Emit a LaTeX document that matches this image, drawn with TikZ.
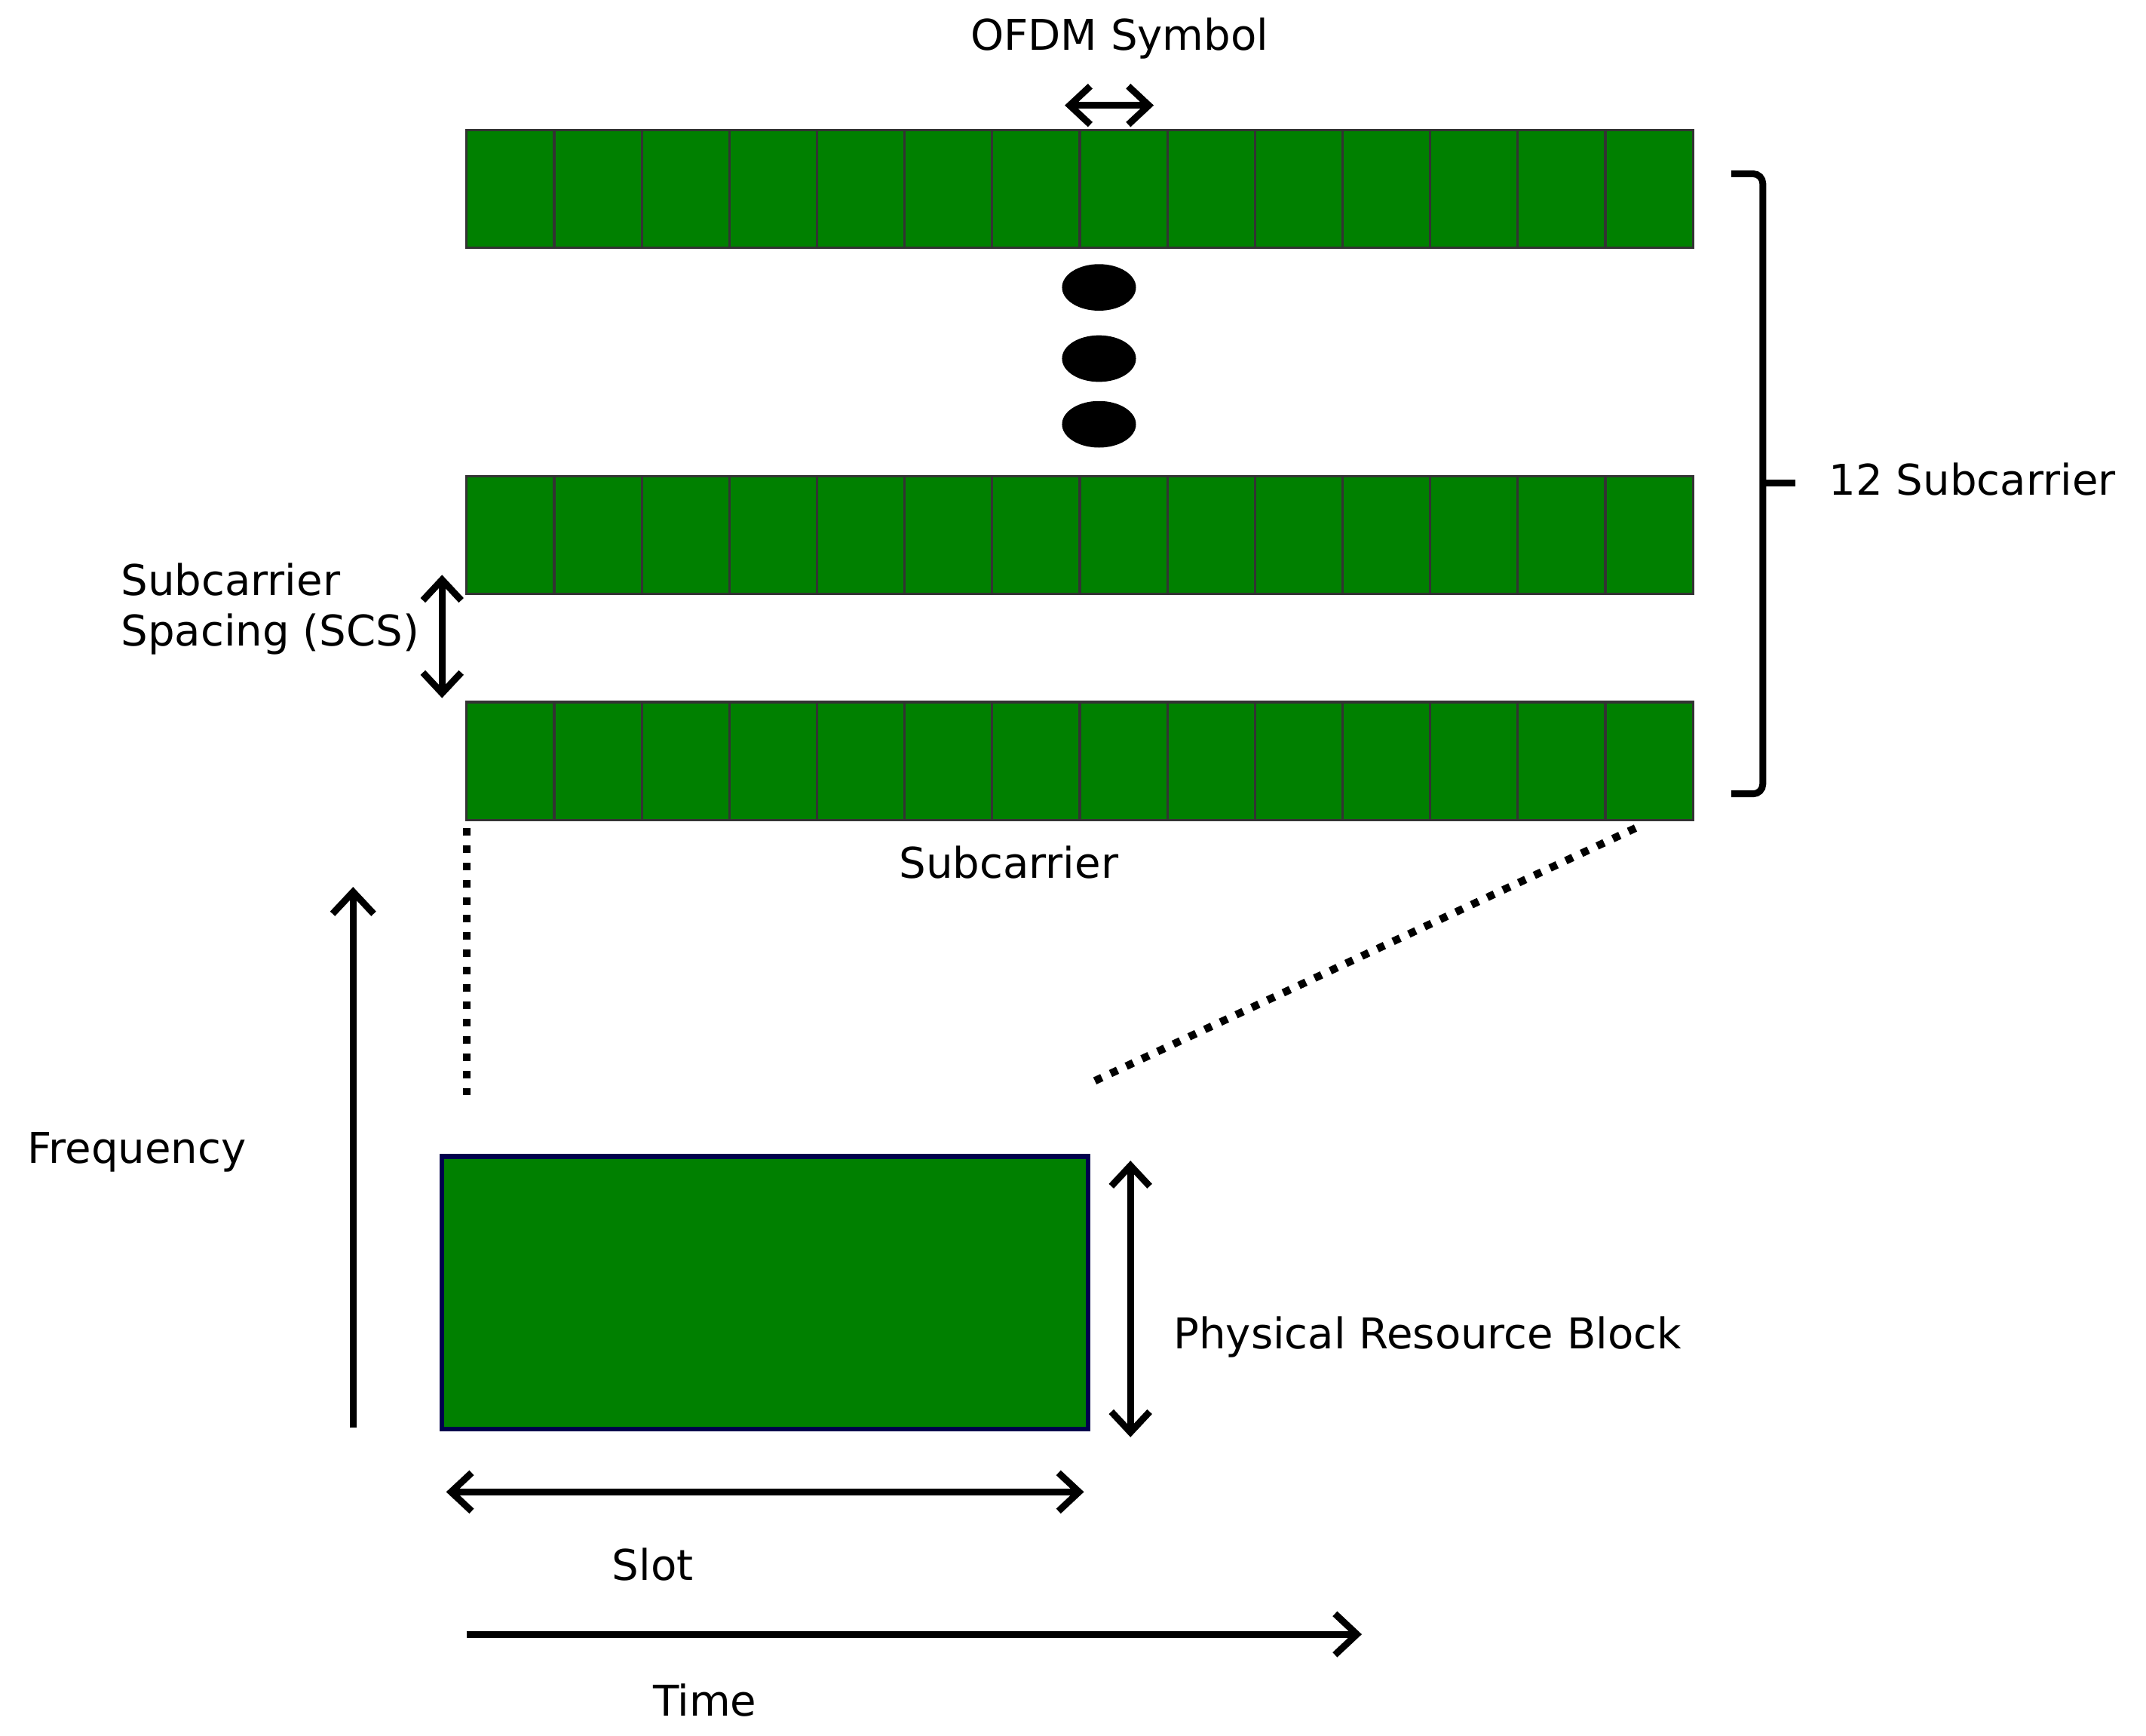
\documentclass[tikz,border=0pt]{standalone}
\usepackage{fontspec}
\setmainfont{DejaVu Sans}
\usetikzlibrary{positioning,arrows.meta,shapes.geometric}

\begin{document}
\begin{tikzpicture}[
  x=0.01cm, y=-0.01cm,
  cell/.style={rectangle, draw=black!80, fill=green!50!black, minimum width=0.64cm,
               minimum height=0.86cm, inner sep=0pt, line width=0.5pt},
  dim/.style={{Straight Barb[length=1.5mm,width=2.8mm]}-{Straight Barb[length=1.5mm,width=2.8mm]}, line width=1.4pt},
  axis/.style={-{Straight Barb[length=1.6mm,width=3mm]}, line width=1.4pt},
  guide/.style={dotted, line width=1.6pt},
  dot/.style={ellipse, fill=black, minimum width=0.54cm, minimum height=0.34cm, inner sep=0pt},
  every node/.style={font=\fontsize{8.8}{10.5}\selectfont}
]
\useasboundingbox (0,0) rectangle (1568,1268);

% ====== rows of subcarriers ======
\foreach \r/\y in {a/138, b/391, c/556}{
  \foreach \i in {0,...,13}{
    \node[cell] (\r\i) at ({373+64*\i},\y) {};
  }
}

\node[dot] (e1) at (803,210) {};
\node[dot] (e2) at (803,262) {};
\node[dot] (e3) at (803,310) {};

% ====== labels on the grid ======
\node (ofdm) at (818,28) {OFDM Symbol};
\coordinate (o1) at (778,77);
\coordinate (o2) at (843,77);
\draw[dim] (o1) -- (o2);

\coordinate (b1) at (1265,127);
\coordinate (b2) at (1265,580);
\coordinate (bm) at (1312,353);
\draw[line width=1.4pt, rounded corners=2pt] (b1) -| (1288,580) -- (b2);
\draw[line width=1.4pt] (1288,353) -- (bm);
\node[anchor=west] (twelve) at (1324,350) {12 Subcarrier};

\coordinate (s1) at (323,420);
\coordinate (s2) at (323,510);
\draw[dim] (s1) -- (s2);
\node[anchor=west, align=left] (scs) at (76,445) {Subcarrier\\Spacing (SCS)};

\node (subc) at (737,630) {Subcarrier};

% ====== zoom guides ======
\coordinate (g1) at (341,605);
\coordinate (g2) at (341,800);
\coordinate (g3) at (1195,605);
\coordinate (g4) at (795,792);
\draw[guide] (g1) -- (g2);
\draw[guide] (g3) -- (g4);

% ====== resource block ======
\node[rectangle, draw=black!70!blue, fill=green!50!black, line width=1pt,
      minimum width=4.72cm, minimum height=1.99cm, inner sep=0pt] (prb) at (559,944.5) {};
\coordinate (p1) at (826,848);
\coordinate (p2) at (826,1050);
\draw[dim] (p1) -- (p2);
\node[anchor=west] (prblabel) at (845,977) {Physical Resource Block};

\coordinate (sl1) at (326,1090);
\coordinate (sl2) at (792,1090);
\draw[dim] (sl1) -- (sl2);
\node (slot) at (477,1143) {Slot};

% ====== axes ======
\coordinate (f1) at (258,1043);
\coordinate (f2) at (258,648);
\draw[axis] (f1) -- (f2);
\node (freq) at (100,842) {Frequency};

\coordinate (t1) at (341,1194);
\coordinate (t2) at (995,1194);
\draw[axis] (t1) -- (t2);
\node (time) at (515,1242) {Time};

\end{tikzpicture}
\end{document}
